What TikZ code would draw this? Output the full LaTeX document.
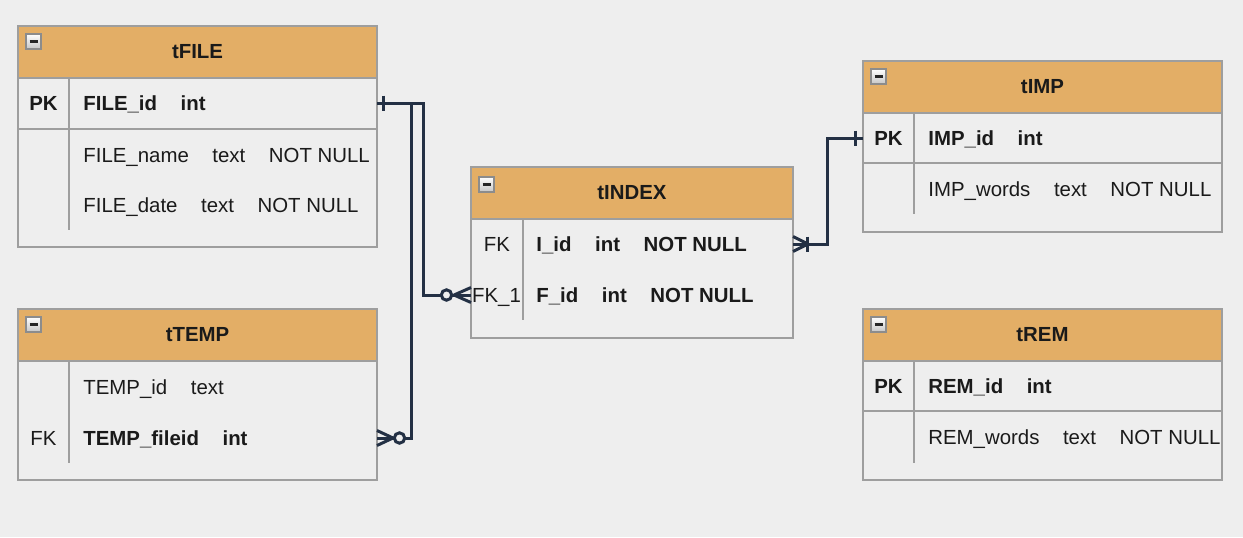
\documentclass[tikz,border=0pt]{standalone}
\usepackage{fontspec}
\setmainfont{Liberation Sans}
\usetikzlibrary{calc}
\definecolor{bgGray}{RGB}{238,238,238}
\definecolor{headOrange}{RGB}{227,174,102}
\definecolor{edgeGray}{RGB}{158,158,158}
\definecolor{linkNavy}{RGB}{35,48,68}
\definecolor{txtDark}{RGB}{26,26,26}
\def\px{0.5pt}
\newcommand\fgap{\hspace{11.8pt}}
\newcommand\rowfont{\fontsize{10.2pt}{12pt}\selectfont}
\tikzset{
  collapse/.pic = {
    \draw[draw=gray!90, line width=0.6pt, top color=white, bottom color=gray!45] (0,0) rectangle (15,15);
    \draw[line width=1.1pt, black!85] (3.5,7.5) -- (11.5,7.5);
  }
}
\begin{document}
\begin{tikzpicture}[x=0.5pt, y=-0.5pt,
  tbl/.style = {draw=edgeGray, fill=bgGray, line width=0.75pt, inner sep=0, outer sep=0, anchor=north west, minimum width=359*\px},
  head/.style = {tbl, fill=headOrange, minimum height=52*\px, text=txtDark, font=\rowfont\bfseries},
  field/.style = {inner sep=0, text height=7.3pt, text depth=0pt, anchor=west, text=txtDark, font=\rowfont},
  key/.style = {field, anchor=center},
  rule/.style = {draw=edgeGray, line width=0.75pt},
  link/.style = {draw=linkNavy, line width=1.5pt}]
\useasboundingbox[fill=bgGray] (0,0) rectangle (1243,537);

% tFILE
\node[tbl, minimum height=221*\px] (tFILE) at (18,26) {};
\node[head] (tFILEhead) at (tFILE.north west) {tFILE};
\draw[rule] (18,129) -- (377,129);
\draw[rule] (69,78) -- (69,230);
\pic at ($(tFILE.north west)+(8,8)$) {collapse};
\node[key, font=\rowfont\bfseries] (fileidkey) at (43.5,103) {PK};
\node[field, font=\rowfont\bfseries] (fileid) at (83,103) {FILE\_id\fgap int};
\node[field] (filename) at (83,155) {FILE\_name\fgap text\fgap NOT NULL};
\node[field] (filedate) at (83,205) {FILE\_date\fgap text\fgap NOT NULL};

% tTEMP
\node[tbl, minimum height=171*\px] (tTEMP) at (18,309) {};
\node[head] (tTEMPhead) at (tTEMP.north west) {tTEMP};
\draw[rule] (69,361) -- (69,463);
\pic at ($(tTEMP.north west)+(8,8)$) {collapse};
\node[field] (tempid) at (83,387) {TEMP\_id\fgap text};
\node[key] (tempfidkey) at (43.5,438) {FK};
\node[field, font=\rowfont\bfseries] (tempfid) at (83,438) {TEMP\_fileid\fgap int};

% tINDEX
\node[tbl, minimum width=322*\px, minimum height=171*\px] (tINDEX) at (471,167) {};
\node[head, minimum width=322*\px] (tINDEXhead) at (tINDEX.north west) {tINDEX};
\draw[rule] (523,218) -- (523,320);
\pic at ($(tINDEX.north west)+(8,10)$) {collapse};
\node[key] (iidkey) at (497,244) {FK};
\node[field, font=\rowfont\bfseries] (iid) at (536,244) {I\_id\fgap int\fgap NOT NULL};
\node[key] (fidkey) at (496.5,295) {FK\_1};
\node[field, font=\rowfont\bfseries] (fid) at (536,295) {F\_id\fgap int\fgap NOT NULL};

% tIMP
\node[tbl, minimum height=171*\px] (tIMP) at (863,61) {};
\node[head] (tIMPhead) at (tIMP.north west) {tIMP};
\draw[rule] (863,163) -- (1222,163);
\draw[rule] (914,112) -- (914,214);
\pic at ($(tIMP.north west)+(8,8)$) {collapse};
\node[key, font=\rowfont\bfseries] (impidkey) at (888.5,138) {PK};
\node[field, font=\rowfont\bfseries] (impid) at (928,138) {IMP\_id\fgap int};
\node[field] (impwords) at (928,189) {IMP\_words\fgap text\fgap NOT NULL};

% tREM
\node[tbl, minimum height=171*\px] (tREM) at (863,309) {};
\node[head] (tREMhead) at (tREM.north west) {tREM};
\draw[rule] (863,411) -- (1222,411);
\draw[rule] (914,360) -- (914,463);
\pic at ($(tREM.north west)+(8,8)$) {collapse};
\node[key, font=\rowfont\bfseries] (remidkey) at (888.5,386) {PK};
\node[field, font=\rowfont\bfseries] (remid) at (928,386) {REM\_id\fgap int};
\node[field] (remwords) at (928,437) {REM\_words\fgap text\fgap NOT NULL};

% links
\coordinate (fileOut) at (tFILE.east |- fileid.west);
\coordinate (fidIn) at (tINDEX.west |- fid.west);
\coordinate (tempIn) at (tTEMP.east |- tempfid.west);
\coordinate (iidOut) at (tINDEX.east |- iid.west);
\coordinate (impIn) at (tIMP.west |- impid.west);

\draw[link] (fileOut) -- ++(46,0) |- (fidIn);
\draw[link] (fileOut) -- ++(34,0) |- (tempIn);
\draw[link] (iidOut) -- ++(34,0) |- (impIn);

% one (bar) at tFILE
\draw[link] ($(fileOut)+(6,-7.5)$) -- ++(0,15);
% zero or many at tINDEX
\draw[link] ($(fidIn)+(-17,0)$) -- ++(17,-7.5);
\draw[link] ($(fidIn)+(-17,0)$) -- ++(17,7.5);
\draw[link, fill=bgGray] ($(fidIn)+(-24.5,0)$) circle[radius=2.6pt];
% zero or many at tTEMP
\draw[link] ($(tempIn)+(16,0)$) -- ++(-16,-7.5);
\draw[link] ($(tempIn)+(16,0)$) -- ++(-16,7.5);
\draw[link, fill=bgGray] ($(tempIn)+(22.5,0)$) circle[radius=2.6pt];
% one or many at tINDEX
\draw[link] ($(iidOut)+(15,0)$) -- ++(-15,-7.5);
\draw[link] ($(iidOut)+(15,0)$) -- ++(-15,7.5);
\draw[link] ($(iidOut)+(14,-7.5)$) -- ++(0,15);
% one at tIMP
\draw[link] ($(impIn)+(-8,-7.5)$) -- ++(0,15);
\end{tikzpicture}
\end{document}
